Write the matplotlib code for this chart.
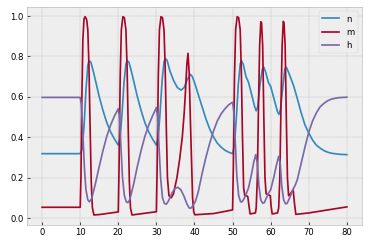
import matplotlib
matplotlib.use("Agg")
import matplotlib.pyplot as plt

# gating variables
n_t = [0, 10.0, 10.5, 11.0, 11.5, 12.0, 12.3, 12.8, 13.5, 14, 15, 16, 17, 18, 19, 20,
       20.5, 21.0, 21.5, 22.0, 22.3, 22.8, 23.5, 24, 25, 26, 27, 28, 29, 30,
       30.5, 31.0, 31.5, 32.0, 32.3, 32.8, 33.5, 34.5, 35.5, 36.5, 37.3, 38.0, 38.9, 39.4,
       40, 41, 42, 43, 44, 45, 46, 47, 48, 49, 50,
       50.5, 51.0, 51.5, 52.0, 52.3, 52.8, 53.5, 54.2, 55.0, 55.8, 56.2, 56.6, 57.2, 57.8,
       58.2, 58.7, 59.4, 60.0, 61.0, 61.8, 62.2, 62.6, 63.2, 63.7, 64.1, 64.7, 65.5, 66,
       67, 68, 69, 70, 71, 72, 73, 74, 75, 76, 78, 80]
n_v = [0.318, 0.318, 0.34, 0.45, 0.63, 0.755, 0.778, 0.77, 0.72, 0.68, 0.60, 0.53, 0.47, 0.425, 0.39, 0.36,
       0.40, 0.52, 0.67, 0.76, 0.778, 0.77, 0.72, 0.68, 0.60, 0.53, 0.47, 0.425, 0.39, 0.36,
       0.40, 0.53, 0.68, 0.77, 0.788, 0.78, 0.73, 0.68, 0.645, 0.632, 0.645, 0.68, 0.71, 0.70,
       0.67, 0.61, 0.55, 0.49, 0.44, 0.40, 0.37, 0.35, 0.335, 0.325, 0.318,
       0.36, 0.50, 0.66, 0.76, 0.778, 0.76, 0.70, 0.67, 0.61, 0.55, 0.53, 0.55, 0.66, 0.735,
       0.745, 0.72, 0.67, 0.65, 0.58, 0.525, 0.512, 0.54, 0.65, 0.735, 0.745, 0.72, 0.68, 0.655,
       0.59, 0.52, 0.46, 0.42, 0.385, 0.36, 0.345, 0.333, 0.325, 0.32, 0.315, 0.313]

m_t = [0, 10.0, 10.2, 10.4, 10.7, 11.0, 11.3, 11.7, 12.0, 12.3, 12.6, 12.9, 13.2, 13.6, 15, 20.0,
       20.2, 20.5, 20.8, 21.2, 21.6, 22.0, 22.3, 22.6, 22.9, 23.2, 23.6, 30.0,
       30.2, 30.5, 30.8, 31.2, 31.6, 32.0, 32.3, 32.6, 32.9, 33.3, 33.9, 34.5, 35.4, 36.1,
       36.8, 37.3, 37.6, 38.0, 38.3, 38.6, 38.9, 39.2, 39.5, 39.8, 40.1, 45, 50.0,
       50.2, 50.5, 50.8, 51.2, 51.6, 52.0, 52.3, 52.6, 52.9, 53.2, 53.7, 54.0, 54.3, 54.6,
       56.0, 56.2, 56.5, 56.8, 57.1, 57.4, 57.6, 57.9, 58.2, 58.5, 58.8, 59.4, 59.9, 60.1,
       60.4, 61.8, 62.1, 62.4, 62.7, 63.0, 63.3, 63.5, 63.8, 64.1, 64.4, 64.7, 65.2, 65.9, 66.2,
       66.6, 70, 75, 80]
m_v = [0.053, 0.053, 0.2, 0.55, 0.88, 0.985, 0.995, 0.98, 0.93, 0.75, 0.45, 0.18, 0.05, 0.015, 0.017, 0.03,
       0.25, 0.7, 0.93, 0.995, 0.99, 0.93, 0.75, 0.45, 0.18, 0.05, 0.015, 0.031,
       0.25, 0.7, 0.93, 0.995, 0.99, 0.93, 0.75, 0.45, 0.2, 0.11, 0.10, 0.12, 0.2, 0.29,
       0.40, 0.52, 0.615, 0.76, 0.814, 0.72, 0.5, 0.3, 0.1, 0.03, 0.016, 0.022, 0.04,
       0.25, 0.7, 0.93, 0.995, 0.99, 0.93, 0.72, 0.4, 0.15, 0.11, 0.11, 0.105, 0.06, 0.02,
       0.025, 0.05, 0.2, 0.55, 0.85, 0.97, 0.965, 0.85, 0.5, 0.2, 0.12, 0.115, 0.11, 0.06,
       0.02, 0.025, 0.05, 0.2, 0.55, 0.85, 0.972, 0.965, 0.85, 0.5, 0.2, 0.11, 0.12, 0.14, 0.08,
       0.018, 0.025, 0.04, 0.055]

h_t = [0, 10, 10.3, 10.7, 11.1, 11.5, 12.0, 12.4, 13.0, 14, 15, 16, 17, 18, 19, 20,
       20.3, 20.7, 21.1, 21.6, 22.1, 22.5, 23.0, 24, 25, 26, 27, 28, 29, 30,
       30.3, 30.7, 31.1, 31.6, 32.1, 32.6, 33.2, 34.0, 34.8, 35.6, 36.4, 37.2, 38.0, 38.6,
       39.0, 39.6, 40.3, 41, 42, 43, 44, 45, 46, 47, 48, 49, 50,
       50.3, 50.7, 51.1, 51.6, 52.1, 52.5, 53.0, 53.6, 54.2, 55.0, 55.6, 56.1, 56.5, 56.9,
       57.4, 57.9, 58.3, 58.9, 59.5, 60.0, 60.8, 61.5, 62.1, 62.5, 62.9, 63.4, 63.9, 64.3,
       65.0, 65.9, 66.5, 67, 68, 69, 70, 71, 72, 73, 74, 75, 76, 77, 78, 80]
h_v = [0.596, 0.596, 0.56, 0.42, 0.25, 0.14, 0.09, 0.08, 0.095, 0.17, 0.255, 0.335, 0.405, 0.46, 0.505, 0.54,
       0.50, 0.35, 0.2, 0.11, 0.08, 0.076, 0.09, 0.165, 0.255, 0.335, 0.405, 0.46, 0.505, 0.546,
       0.50, 0.35, 0.2, 0.10, 0.072, 0.068, 0.085, 0.12, 0.145, 0.152, 0.14, 0.11, 0.07, 0.05,
       0.048, 0.06, 0.085, 0.13, 0.22, 0.30, 0.37, 0.43, 0.48, 0.515, 0.54, 0.56, 0.572,
       0.53, 0.38, 0.21, 0.11, 0.08, 0.08, 0.095, 0.12, 0.15, 0.22, 0.28, 0.313, 0.27, 0.16,
       0.09, 0.073, 0.075, 0.10, 0.125, 0.14, 0.2, 0.26, 0.305, 0.27, 0.16, 0.09, 0.07, 0.072,
       0.1, 0.143, 0.165, 0.19, 0.27, 0.35, 0.425, 0.48, 0.52, 0.55, 0.567, 0.58, 0.588, 0.592, 0.595, 0.597]

plt.style.use('bmh')
fig, ax = plt.subplots(figsize=(6, 4), dpi=368 / 6)
fig.subplots_adjust(left=0.073, right=0.984, bottom=0.082, top=0.971)

ax.plot(n_t, n_v, label='n')
ax.plot(m_t, m_v, label='m')
ax.plot(h_t, h_v, label='h')
ax.legend(loc='upper right')

fig.savefig('out.png', dpi=368 / 6)
